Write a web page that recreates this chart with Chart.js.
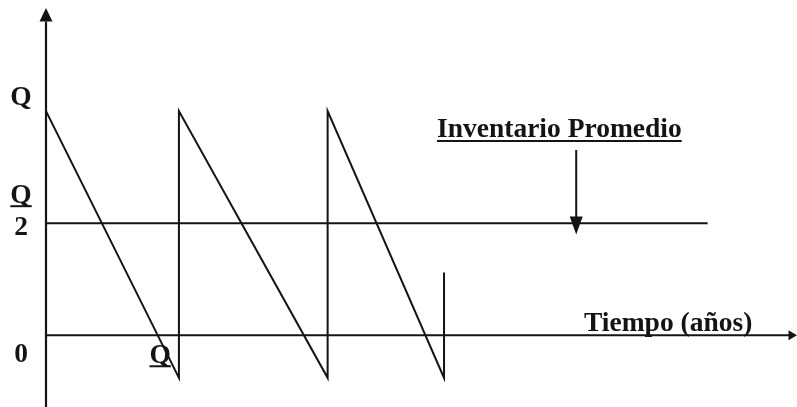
<!DOCTYPE html>
<html>
<head>
<meta charset="utf-8">
<script src="https://cdn.jsdelivr.net/npm/chart.js@4.4.0/dist/chart.umd.min.js"></script>
<style>
  html, body { margin: 0; padding: 0; background: #ffffff; }
  #wrap { width: 797px; height: 407px; position: relative; }
</style>
</head>
<body>
<div id="wrap"><canvas id="c"></canvas></div>
<script>
// ---- data (Q = 1) ----
const tiempo      = [0, 17.7, 17.7, 37.5, 37.5, 53.0, 53.0];
const inventario  = [1, -0.19, 1, -0.19, 1, -0.19, 0.28];
const promedioX   = [0, 88.1];
const promedioY   = [0.5, 0.5];
const ejeXRange   = [0, 99];
const ejeYRange   = [-0.32, 1.40];
const yTickValues = [1, 0.5, 0];
const yTickLabels = ['Q', 'Q/2', '0'];
const tituloPromedio = 'Inventario Promedio';
const tituloTiempo   = 'Tiempo (años)';
const etiquetaCiclo  = 'Q';

const ink = '#141414';
const toPts = (xs, ys) => xs.map((x, i) => ({ x: x, y: ys[i] }));

const overlay = {
  id: 'overlay',
  afterDatasetsDraw(chart) {
    const ctx = chart.ctx;
    const xs = chart.scales.x, ys = chart.scales.y;
    const X = v => xs.getPixelForValue(v);
    const Y = v => ys.getPixelForValue(v);
    ctx.save();
    ctx.fillStyle = ink;
    ctx.strokeStyle = ink;
    // y axis arrowhead
    const ax = X(0);
    ctx.beginPath();
    ctx.moveTo(ax, Y(1.46));
    ctx.lineTo(ax - 6.5, Y(1.40) );
    ctx.lineTo(ax + 6.5, Y(1.40));
    ctx.closePath();
    ctx.fill();
    // x axis arrowhead
    const ay = Y(0);
    ctx.beginPath();
    ctx.moveTo(X(100), ay);
    ctx.lineTo(X(99) - 1, ay - 5);
    ctx.lineTo(X(99) - 1, ay + 5);
    ctx.closePath();
    ctx.fill();

    ctx.font = 'bold 27.5px "Liberation Serif", "Times New Roman", serif';
    ctx.textBaseline = 'alphabetic';
    ctx.lineWidth = 2;
    const underline = (x, y, w) => {
      ctx.beginPath();
      ctx.moveTo(x, y);
      ctx.lineTo(x + w, y);
      ctx.stroke();
    };
    // y tick labels
    yTickValues.forEach((v, i) => {
      const lab = yTickLabels[i];
      const cx = 21;
      ctx.textAlign = 'center';
      if (lab.indexOf('/') >= 0) {
        const parts = lab.split('/');
        const yy = Y(v);
        ctx.fillText(parts[0], cx, yy - 20);
        const w = ctx.measureText(parts[0]).width;
        underline(cx - w / 2, yy - 17, w);
        ctx.fillText(parts[1], cx, yy + 12);
      } else {
        ctx.fillText(lab, cx, Y(v) + (v === 0 ? 27 : -6));
      }
    });
    // Q under the first cycle
    ctx.textAlign = 'center';
    const qx = X(15.2), qy = Y(0) + 28;
    ctx.fillText(etiquetaCiclo, qx, qy);
    const qw = ctx.measureText(etiquetaCiclo).width;
    underline(qx - qw / 2, qy + 3, qw);

    // Inventario Promedio title + arrow
    ctx.textAlign = 'left';
    const tx = 437, tyb = 137;
    ctx.fillText(tituloPromedio, tx, tyb);
    const tw = ctx.measureText(tituloPromedio).width;
    underline(tx, tyb + 4, tw);
    const arx = X(70.6);
    ctx.beginPath();
    ctx.moveTo(arx, 150);
    ctx.lineTo(arx, Y(0.52));
    ctx.stroke();
    ctx.beginPath();
    ctx.moveTo(arx, Y(0.45));
    ctx.lineTo(arx - 6.5, Y(0.53));
    ctx.lineTo(arx + 6.5, Y(0.53));
    ctx.closePath();
    ctx.fill();

    // Tiempo label
    ctx.textAlign = 'left';
    ctx.fillText(tituloTiempo, 584, Y(0) - 4);
    ctx.restore();
  }
};

const lineDs = (data, w) => ({
  data: data,
  borderColor: ink,
  borderWidth: w,
  pointRadius: 0,
  fill: false,
  tension: 0,
  clip: false
});

new Chart(document.getElementById('c'), {
  type: 'line',
  data: {
    datasets: [
      lineDs(toPts([ejeXRange[0], ejeXRange[0]], ejeYRange), 2.2),
      lineDs(toPts(ejeXRange, [0, 0]), 2),
      lineDs(toPts(promedioX, promedioY), 2),
      lineDs(toPts(tiempo, inventario), 2)
    ]
  },
  options: {
    responsive: true,
    maintainAspectRatio: false,
    animation: false,
    parsing: true,
    layout: { padding: { left: 46, top: 8, right: 0, bottom: 0 } },
    plugins: { legend: { display: false }, tooltip: { enabled: false } },
    scales: {
      x: { type: 'linear', min: 0, max: 100, display: false },
      y: { type: 'linear', min: -0.32, max: 1.46, display: false }
    }
  },
  plugins: [overlay]
});
</script>
</body>
</html>
